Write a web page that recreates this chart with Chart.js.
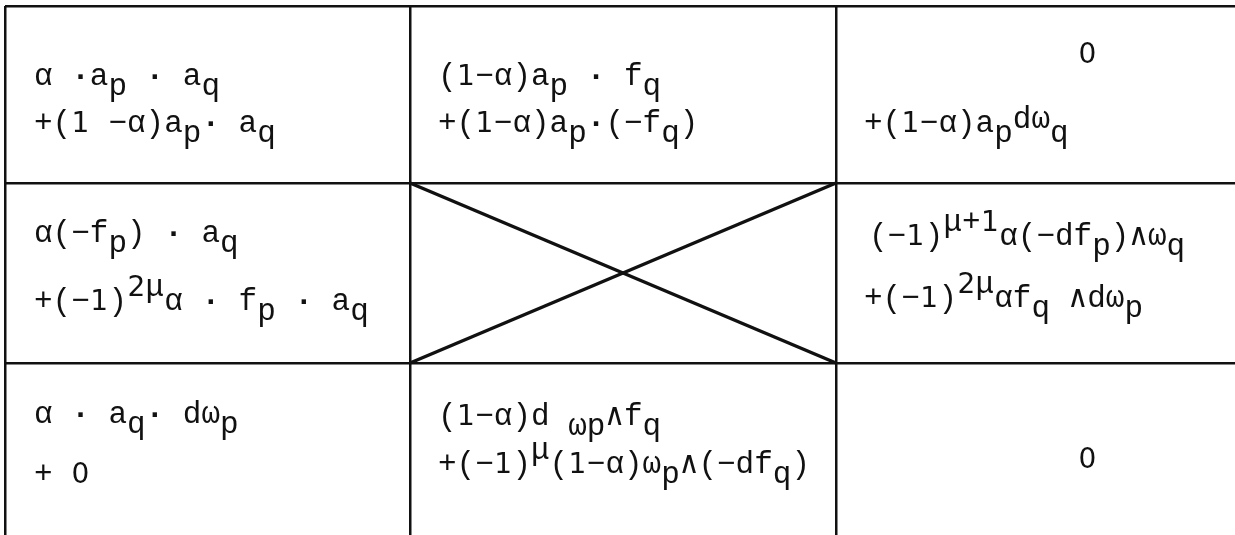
<!DOCTYPE html>
<html>
<head>
<meta charset="utf-8">
<script src="https://cdn.jsdelivr.net/npm/chart.js@4/dist/chart.umd.min.js"></script>
<style>
  html, body { margin: 0; padding: 0; background: #fff; }
  #wrap { width: 1235px; height: 535px; }
</style>
</head>
<body>
<div id="wrap"><canvas id="c" width="1235" height="535"></canvas></div>
<script>
// ---- table grid (column / row edge values) ----
const colEdges = [5, 410, 836];
const rowEdges = [6, 183, 363];

// ---- cell contents: each line is a list of [text, level] ----
const cellR0C0 = [
  [["α ·a", "n"], ["p", "sub"], [" · a", "n"], ["q", "sub"]],
  [["+(1 −α)a", "n"], ["p", "sub"], ["· a", "n"], ["q", "sub"]]
];
const cellR0C1 = [
  [["(1−α)a", "n"], ["p", "sub"], [" · f", "n"], ["q", "sub"]],
  [["+(1−α)a", "n"], ["p", "sub"], ["·(−f", "n"], ["q", "sub"], [")", "n"]]
];
const cellR0C2 = [
  [["0", "n"]],
  [["+(1−α)a", "n"], ["p", "sub"], ["dω", "raise"], ["q", "sub"]]
];
const cellR1C0 = [
  [["α(−f", "n"], ["p", "sub"], [") · a", "n"], ["q", "sub"]],
  [["+(−1)", "n"], ["2μ", "sup"], ["α · f", "n"], ["p", "sub"], [" · a", "n"], ["q", "sub"]]
];
const cellR1C2 = [
  [["(−1)", "n"], ["μ+1", "sup"], ["α(−df", "n"], ["p", "sub"], [")∧ω", "n"], ["q", "sub"]],
  [["+(−1)", "n"], ["2μ", "sup"], ["αf", "n"], ["q", "sub"], [" ∧dω", "n"], ["p", "sub"]]
];
const cellR2C0 = [
  [["α · a", "n"], ["q", "sub"], ["· dω", "n"], ["p", "sub"]],
  [["+ 0", "n"]]
];
const cellR2C1 = [
  [["(1−α)d ", "n"], ["ωp", "sub"], ["∧f", "n"], ["q", "sub"]],
  [["+(−1)", "n"], ["μ", "sup"], ["(1−α)ω", "n"], ["p", "sub"], ["∧(−df", "n"], ["q", "sub"], [")", "n"]]
];
const cellR2C2 = [
  [["0", "n"]]
];

// ---- layout (line anchors: left x, baseline y) ----
const layout = [
  { lines: cellR0C0, pos: [[34, 85], [34, 132]] },
  { lines: cellR0C1, pos: [[438, 85], [438, 132]] },
  { lines: cellR0C2, pos: [[1078, 63], [864, 132]] },
  { lines: cellR1C0, pos: [[34, 242], [34, 310]] },
  { lines: cellR1C2, pos: [[869, 245], [864, 307]] },
  { lines: cellR2C0, pos: [[34, 423], [34, 483]] },
  { lines: cellR2C1, pos: [[438, 425], [438, 473]] },
  { lines: cellR2C2, pos: [[1078, 468]] }
];
const ADV = 18.6;
const SHIFT = { n: 0, sub: 10, sup: -14, raise: -4 };
const FONT = "31px 'Liberation Mono', 'DejaVu Sans Mono', monospace";
const DIGITFONT = "28px 'DejaVu Sans', 'Liberation Sans', sans-serif";
const DOTFONT = "bold 31px 'Liberation Mono', 'DejaVu Sans Mono', monospace";

function fontFor(ch) {
  if (ch === '·') return DOTFONT;
  if (/[0-9]/.test(ch)) return DIGITFONT;
  return FONT;
}

const cellText = {
  id: 'cellText',
  afterDatasetsDraw(chart) {
    const { ctx } = chart;
    const xs = chart.scales.x, ys = chart.scales.y;
    ctx.save();
    ctx.fillStyle = '#111';
    ctx.textAlign = 'center';
    ctx.textBaseline = 'alphabetic';
    layout.forEach(cell => {
      cell.lines.forEach((segs, i) => {
        const px0 = xs.getPixelForValue(cell.pos[i][0]);
        const py = ys.getPixelForValue(cell.pos[i][1]);
        let col = 0;
        segs.forEach(([t, lvl]) => {
          for (const ch of t) {
            if (ch !== ' ') {
              ctx.font = fontFor(ch);
              ctx.fillText(ch, px0 + (col + 0.5) * ADV, py + SHIFT[lvl]);
            }
            col++;
          }
        });
      });
    });
    ctx.restore();
  }
};

const diagA = [{ x: colEdges[1], y: rowEdges[1] }, { x: colEdges[2], y: rowEdges[2] }];
const diagB = [{ x: colEdges[1], y: rowEdges[2] }, { x: colEdges[2], y: rowEdges[1] }];

const axisCommon = {
  type: 'linear',
  ticks: { display: false, autoSkip: false },
  grid: { color: '#111', lineWidth: 2.5, drawTicks: false },
  border: { display: false }
};

function draw() {
  new Chart(document.getElementById('c'), {
    type: 'scatter',
    data: {
      datasets: [
        { data: diagA, showLine: true, borderColor: '#111', borderWidth: 3.5, pointRadius: 0, clip: false },
        { data: diagB, showLine: true, borderColor: '#111', borderWidth: 3.5, pointRadius: 0, clip: false }
      ]
    },
    options: {
      responsive: false,
      animation: false,
      devicePixelRatio: 1,
      layout: { padding: { left: 5, top: 6, right: 0, bottom: 0 } },
      plugins: { legend: { display: false }, tooltip: { enabled: false } },
      scales: {
        x: Object.assign({}, axisCommon, {
          min: 5, max: 1235,
          afterBuildTicks: s => { s.ticks = colEdges.map(v => ({ value: v })); }
        }),
        y: Object.assign({}, axisCommon, {
          min: 6, max: 535, reverse: true,
          afterBuildTicks: s => { s.ticks = rowEdges.map(v => ({ value: v })); }
        })
      }
    },
    plugins: [cellText]
  });
}

if (document.fonts && document.fonts.load) {
  Promise.all([document.fonts.load(FONT), document.fonts.load(DIGITFONT), document.fonts.load(DOTFONT)])
    .then(draw, draw);
} else {
  draw();
}
</script>
</body>
</html>
